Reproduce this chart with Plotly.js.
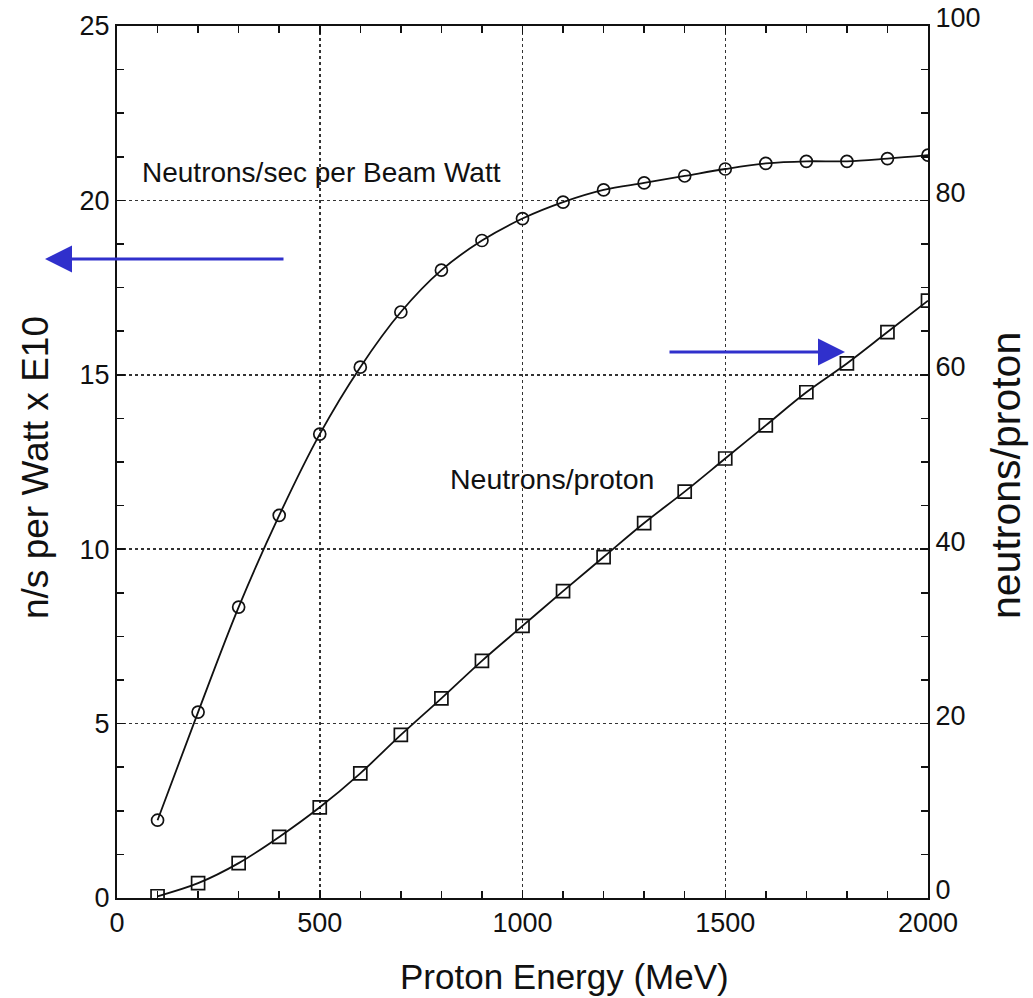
<!DOCTYPE html>
<html>
<head>
<meta charset="utf-8">
<script src="https://cdn.plot.ly/plotly-3.0.1.min.js"></script>
<style>html,body{margin:0;padding:0;background:#fff;}</style>
</head>
<body>
<div id="chart" style="width:1033px;height:998px;"></div>
<script>
// Data
const energy = [100,200,300,400,500,600,700,800,900,1000,1100,1200,1300,1400,1500,1600,1700,1800,1900,2000];
const neutronsPerWatt = [2.23,5.33,8.34,10.97,13.3,15.22,16.8,18.0,18.85,19.48,19.95,20.3,20.5,20.7,20.9,21.06,21.12,21.12,21.2,21.3];
const neutronsPerProton = [0.2,1.7,4.0,7.0,10.4,14.3,18.7,22.9,27.2,31.2,35.2,39.1,43.0,46.6,50.4,54.2,58.0,61.3,64.9,68.5];

const xTitle = 'Proton Energy (MeV)';
const yTitle = 'n/s per Watt x E10';
const y2Title = 'neutrons/proton';
const label1 = 'Neutrons/sec per Beam Watt';
const label2 = 'Neutrons/proton';

const font = 'Liberation Sans, Arial, Helvetica, sans-serif';
const blue = '#3030cc';
const ink = '#111';

const traces = [
  {
    x: energy, y: neutronsPerWatt, type: 'scatter', mode: 'lines+markers',
    line: {color: ink, width: 1.8, shape: 'spline'},
    marker: {symbol: 'circle-open', size: 12, color: ink, line: {width: 1.7}},
    xaxis: 'x', yaxis: 'y', showlegend: false
  },
  {
    x: energy, y: neutronsPerProton, type: 'scatter', mode: 'lines+markers',
    line: {color: ink, width: 1.8, shape: 'spline'},
    marker: {symbol: 'square-open', size: 13, color: ink, line: {width: 1.7}},
    xaxis: 'x', yaxis: 'y2', showlegend: false
  }
];

const tickCommon = {
  showline: true, linecolor: ink, linewidth: 2,
  ticks: 'inside', ticklen: 8, tickwidth: 1.5, tickcolor: ink,
  zeroline: false, automargin: false,
  tickfont: {size: 27, family: font, color: ink}
};

const layout = {
  width: 1033, height: 998,
  margin: {l: 117, r: 105, t: 26, b: 100},
  paper_bgcolor: '#fff', plot_bgcolor: '#fff',
  font: {family: font, color: ink, size: 22},
  xaxis: Object.assign({}, tickCommon, {
    range: [0, 2000], dtick: 500, tick0: 0, mirror: 'ticks',
    minor: {dtick: 100, ticks: 'inside', ticklen: 7, tickwidth: 1.5, tickcolor: ink},
    showgrid: true, gridcolor: '#333', griddash: 'dot', gridwidth: 1.5
  }),
  yaxis: Object.assign({}, tickCommon, {
    range: [0, 25], dtick: 5, tick0: 0,
    minor: {dtick: 1.25, ticks: 'inside', ticklen: 7, tickwidth: 1.5, tickcolor: ink},
    showgrid: true, gridcolor: '#333', griddash: 'dot', gridwidth: 1.5
  }),
  yaxis2: Object.assign({}, tickCommon, {
    range: [0, 100], dtick: 20, tick0: 0,
    overlaying: 'y', side: 'right', ticklabelshift: -8,
    minor: {dtick: 5, ticks: 'inside', ticklen: 7, tickwidth: 1.5, tickcolor: ink},
    showgrid: false
  }),
  annotations: [
    // axis titles
    {xref: 'paper', yref: 'paper', x: (564 - 117) / 811, y: (898 - 977) / 872,
     xanchor: 'center', yanchor: 'middle', text: xTitle, showarrow: false,
     font: {size: 35, family: font, color: ink}},
    {xref: 'paper', yref: 'paper', x: (35 - 117) / 811, y: (898 - 468) / 872,
     xanchor: 'center', yanchor: 'middle', textangle: -90, text: yTitle, showarrow: false,
     font: {size: 37, family: font, color: ink}},
    {xref: 'paper', yref: 'paper', x: (1006 - 117) / 811, y: (898 - 476) / 872,
     xanchor: 'center', yanchor: 'middle', textangle: -90, text: y2Title, showarrow: false,
     font: {size: 41, family: font, color: ink}},
    // in-plot labels
    {xref: 'x', yref: 'y', x: 57, y: 20.8, xanchor: 'left', yanchor: 'middle',
     text: label1, showarrow: false, font: {size: 28, family: font, color: ink}},
    {xref: 'x', yref: 'y', x: 816, y: 12.0, xanchor: 'left', yanchor: 'middle',
     text: label2, showarrow: false, font: {size: 28.5, family: font, color: ink}},
    // blue arrows
    {xref: 'paper', yref: 'paper', x: (45 - 117) / 811, y: (898 - 259) / 872,
     text: '', showarrow: true, ax: 240, ay: 0, axref: 'pixel', ayref: 'pixel',
     arrowhead: 2, arrowsize: 1.8, arrowwidth: 3, arrowcolor: blue, standoff: 0},
    {xref: 'paper', yref: 'paper', x: (845 - 117) / 811, y: (898 - 352) / 872,
     text: '', showarrow: true, ax: -177, ay: 0, axref: 'pixel', ayref: 'pixel',
     arrowhead: 2, arrowsize: 1.8, arrowwidth: 3, arrowcolor: blue, standoff: 0}
  ]
};

Plotly.newPlot('chart', traces, layout, {displayModeBar: false, staticPlot: true});
</script>
</body>
</html>
